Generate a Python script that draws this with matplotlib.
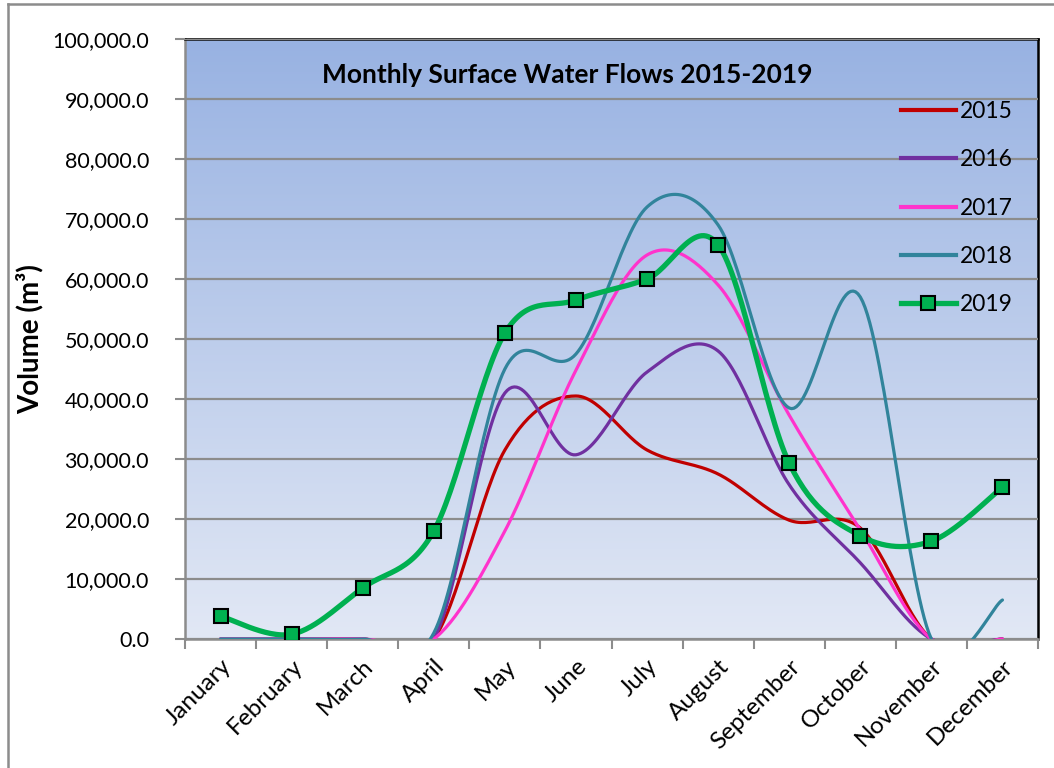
import numpy as np
import matplotlib.pyplot as plt
from matplotlib.lines import Line2D

plt.rcParams['font.family'] = ['Lato', 'DejaVu Sans']

months = ['January', 'February', 'March', 'April', 'May', 'June', 'July',
          'August', 'September', 'October', 'November', 'December']

# monthly volumes in m3
y2015 = [0, 0, 0, 0, 31500, 40500, 31500, 27500, 19800, 18500, 0, 0]
y2016 = [0, 0, 0, 0, 41000, 30700, 44500, 48000, 25700, 12700, 0, 0]
y2017 = [0, 0, 0, 0, 18000, 44800, 64000, 59000, 37300, 18200, 0, 0]
y2018 = [0, 0, 0, 1000, 45000, 47500, 72000, 69000, 38500, 57000, 0, 6500]
y2019 = [3800, 800, 8500, 18000, 51000, 56500, 60000, 65700, 29300, 17200, 16300, 25300]

series = [('2015', y2015, '#C00000'),
          ('2016', y2016, '#7030A0'),
          ('2017', y2017, '#FF33CC'),
          ('2018', y2018, '#31849B')]

N = 30  # points per segment


# Excel-like smoothed line: cubic bezier through each point
def smooth(y):
    x = np.arange(len(y), dtype=float)
    y = np.asarray(y, dtype=float)
    px = np.concatenate([[x[0]], x, [x[-1]]])
    py = np.concatenate([[y[0]], y, [y[-1]]])
    t = np.linspace(0, 1, N, endpoint=False)
    xs, ys = [], []
    for i in range(len(y) - 1):
        p0 = np.array([x[i], y[i]])
        p3 = np.array([x[i + 1], y[i + 1]])
        p1 = p0 + (np.array([px[i + 2], py[i + 2]]) - np.array([px[i], py[i]])) / 6
        p2 = p3 - (np.array([px[i + 3], py[i + 3]]) - np.array([px[i + 1], py[i + 1]])) / 6
        for tt in t:
            b = ((1 - tt) ** 3 * p0 + 3 * (1 - tt) ** 2 * tt * p1
                 + 3 * (1 - tt) * tt ** 2 * p2 + tt ** 3 * p3)
            xs.append(b[0])
            ys.append(b[1])
    xs.append(x[-1])
    ys.append(y[-1])
    return np.array(xs), np.array(ys)


fig = plt.figure(figsize=(10.54, 7.68), dpi=100)
ax = fig.add_axes([185 / 1054, 1 - 639 / 768, 853 / 1054, 600 / 768])

# gradient fill of plot area
grad = np.linspace(0, 1, 256).reshape(-1, 1)
top = np.array([152, 178, 226]) / 255
bot = np.array([226, 232, 245]) / 255
img = (top[None, None, :] * (1 - grad[:, :, None]) + bot[None, None, :] * grad[:, :, None])
ax.imshow(img, extent=[-0.5, 11.5, 0, 100000], aspect='auto', zorder=0)

ax.set_xlim(-0.5, 11.5)
ax.set_ylim(0, 100000)
ax.set_yticks(np.arange(0, 100001, 10000))
ax.set_yticklabels(['{:,.1f}'.format(v) for v in range(0, 100001, 10000)], fontsize=15.5)
ax.yaxis.grid(True, color='#8c8c8c', linewidth=1.6, zorder=1)
ax.set_axisbelow(False)

ax.set_xticks(range(12))
ax.set_xticklabels(months, rotation=45, ha='right', rotation_mode='anchor', fontsize=17.5)
ax.set_xticks(np.arange(-0.5, 12, 1), minor=True)
ax.tick_params(axis='x', which='major', length=0, pad=12)
ax.tick_params(axis='x', which='minor', length=7, color='#8c8c8c', width=1.5)
ax.tick_params(axis='y', length=7, color='#8c8c8c', width=1.5, pad=19)

for s in ['left', 'bottom']:
    ax.spines[s].set_color('#8c8c8c')
    ax.spines[s].set_linewidth(1.8)
for s in ['top', 'right']:
    ax.spines[s].set_color('black')
    ax.spines[s].set_linewidth(1.8)

handles = []
for name, vals, col in series:
    xs, ys = smooth(vals)
    ax.plot(xs, ys, color=col, linewidth=2.3, zorder=3, solid_capstyle='round')
    handles.append(Line2D([], [], color=col, linewidth=3))

xs, ys = smooth(y2019)
ax.plot(xs, ys, color='#00B050', linewidth=3.8, zorder=4, solid_capstyle='round',
        marker='s', markevery=slice(0, None, N), markersize=10,
        markerfacecolor='#00B050', markeredgecolor='black', markeredgewidth=1.5)
handles.append(Line2D([], [], color='#00B050', linewidth=3.8, marker='s', markersize=10,
                      markerfacecolor='#00B050', markeredgecolor='black', markeredgewidth=1.5))

ax.legend(handles, ['2015', '2016', '2017', '2018', '2019'], loc='upper left',
          bbox_to_anchor=(901 / 1054, 1 - 101 / 768), bbox_transform=fig.transFigure,
          frameon=False, fontsize=16.4, handlelength=2.4, handletextpad=0.18,
          labelspacing=1.2, borderpad=0, borderaxespad=0)

ax.text(0.448, 0.94, 'Monthly Surface Water Flows 2015-2019', transform=ax.transAxes,
        ha='center', va='center', fontsize=19, fontweight='bold')

ax.set_ylabel('Volume (m³)', fontsize=20, fontweight='bold', labelpad=6)

# chart area border
fig.add_artist(Line2D([8 / 1054, 8 / 1054], [0, 1 - 4 / 768], color='#8c8c8c',
                      linewidth=1.8, transform=fig.transFigure))
fig.add_artist(Line2D([8 / 1054, 1], [1 - 4 / 768, 1 - 4 / 768], color='#8c8c8c',
                      linewidth=1.8, transform=fig.transFigure))

fig.savefig('out.png', dpi=100)
